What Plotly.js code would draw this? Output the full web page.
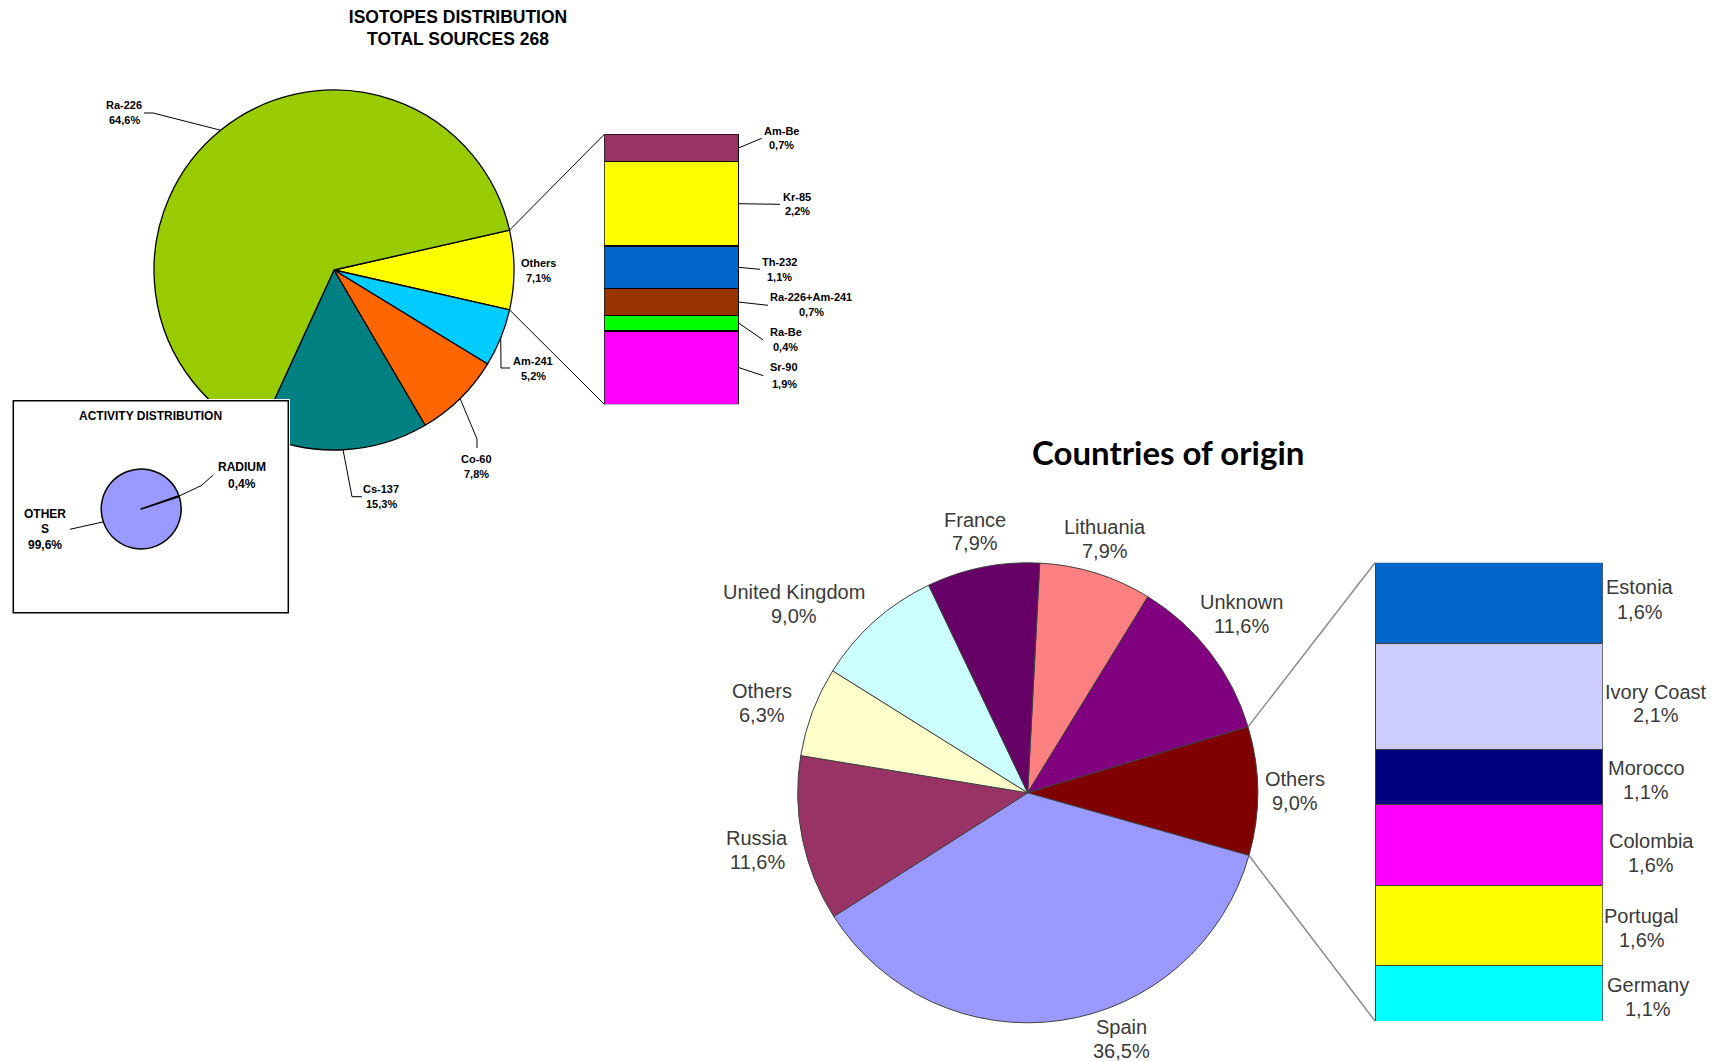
<!DOCTYPE html>
<html><head><meta charset="utf-8">
<script src="https://cdn.plot.ly/plotly-3.0.1.min.js"></script>
<style>
html,body{margin:0;padding:0;background:#fff;}
#wrap{position:relative;width:1717px;height:1061px;}
#main{position:absolute;left:0;top:0;width:1717px;height:1061px;}
#inset{position:absolute;left:12px;top:399px;width:278px;height:215px;}
</style></head><body>
<div id="wrap"><div id="main"></div><div id="inset"></div></div>
<script>
// ---------------- data ----------------
const isotopeLabels = ['Others', 'Am-241', 'Co-60', 'Cs-137', 'Ra-226'];
const isotopeValues = [7.1, 5.2, 7.8, 15.3, 64.6];
const isotopeColors = ['#FFFF00', '#00CCFF', '#FF6600', '#008080', '#99CC00'];

const otherIsotopeLabels = ['Am-Be', 'Kr-85', 'Th-232', 'Ra-226+Am-241', 'Ra-Be', 'Sr-90'];
const otherIsotopeValues = [0.7, 2.2, 1.1, 0.7, 0.4, 1.9];
const otherIsotopeColors = ['#993366', '#FFFF00', '#0066CC', '#993300', '#00FF00', '#FF00FF'];

const activityLabels = ['RADIUM', 'OTHERS'];
const activityValues = [0.4, 99.6];
const activityColors = ['#9999FF', '#9999FF'];

const countryLabels = ['Lithuania', 'Unknown', 'Others', 'Spain', 'Russia', 'Others', 'United Kingdom', 'France'];
const countryValues = [7.9, 11.6, 9.0, 36.5, 11.6, 6.3, 9.0, 7.9];
const countryColors = ['#FF8080', '#800080', '#800000', '#9999FF', '#993366', '#FFFFCC', '#CCFFFF', '#660066'];

const otherCountryLabels = ['Estonia', 'Ivory Coast', 'Morocco', 'Colombia', 'Portugal', 'Germany'];
const otherCountryValues = [1.6, 2.1, 1.1, 1.6, 1.6, 1.1];
const otherCountryColors = ['#0066CC', '#CCCCFF', '#000080', '#FF00FF', '#FFFF00', '#00FFFF'];

const titleTop = 'ISOTOPES DISTRIBUTION<br>TOTAL SOURCES 268';
const titleInset = 'ACTIVITY DISTRIBUTION';
const titleCountries = 'Countries of origin';

// ---------------- geometry / layout ----------------
const W = 1717, H = 1061;
const pie1 = {cx: 334, cy: 270, r: 180};
const box1 = {x0: 604.3, x1: 739, y0: 134.3, y1: 404.3};
const pie2 = {cx: 1027.7, cy: 792.8, r: 230};
const box2 = {x0: 1375, x1: 1602.7, y0: 562.7, y1: 1021};
const pie2Rotation = 3;

const isoLabelPos = [
  {x: 538, y: [263.3, 277.7], leader: null},
  {x: 533, y: [361, 375.7], leader: [[501, 368], [510, 368]]},
  {x: 476, y: [459.3, 474], leader: [[477, 439], [477, 448]]},
  {x: 381, y: [489.3, 504], leader: [[352, 496.7], [362, 496.7]]},
  {x: 124, y: [105, 119.5], leader: [[153, 113], [144, 113]]}
];
const otherIsoLabelPos = [
  {x: 781.7, y: [131, 145], end: [761.7, 138.3]},
  {x: 797, y: [197, 210.7], end: [780, 204.3]},
  {x: 779, y: [262.3, 277.3], end: [760, 269.3]},
  {x: 811, y: [297.3, 312.3], end: [768, 305.3]},
  {x: 785.7, y: [332.3, 347.3], end: [763.3, 340]},
  {x: 784, y: [367.3, 384.3], end: [763.3, 375.7]}
];
const countryLabelPos = [
  {x: 1105, y: [527, 550.6]},
  {x: 1241.5, y: [602.4, 626]},
  {x: 1295, y: [778.5, 802.6]},
  {x: 1121, y: [1027, 1050.6]},
  {x: 757.3, y: [838.4, 862]},
  {x: 762, y: [690.6, 714.7]},
  {x: 793.7, y: [592.2, 616.3]},
  {x: 974.7, y: [520, 543.3]}
];
const otherCountryLabelPos = [
  {x: 1640, y: [586.7, 611.7]},
  {x: 1656, y: [691.7, 715]},
  {x: 1646, y: [768.3, 791.7]},
  {x: 1651, y: [841, 865]},
  {x: 1641.7, y: [916, 940]},
  {x: 1648.3, y: [985, 1009.3]}
];

// ---------------- helpers ----------------
const sum = a => a.reduce((s, v) => s + v, 0);
const pct = v => v.toFixed(1).replace('.', ',') + '%';
const rad = d => d * Math.PI / 180;
function mk(w, h) {
  const X = px => px / w, Y = py => 1 - py / h;
  return {
    X, Y,
    dom: c => ({x: [X(c.cx - c.r), X(c.cx + c.r)], y: [Y(c.cy + c.r), Y(c.cy - c.r)]}),
    path: (pts, color, width) => ({
      type: 'path', xref: 'paper', yref: 'paper', layer: 'above',
      path: 'M ' + pts.map(p => X(p[0]).toFixed(5) + ',' + Y(p[1]).toFixed(5)).join(' L '),
      line: {color: color, width: width}
    }),
    ann: (x, y, text, font) => ({
      xref: 'paper', yref: 'paper', x: X(x), y: Y(y), text: text, showarrow: false,
      xanchor: 'center', yanchor: 'middle', font: font
    })
  };
}
function sliceAngles(values, rotation) {
  const tot = sum(values); let a = rotation;
  return values.map(v => { const s = a; a += v / tot * 360; return {start: s, end: a, mid: (s + a) / 2}; });
}
const onPie = (c, deg) => [c.cx + c.r * Math.sin(rad(deg)), c.cy - c.r * Math.cos(rad(deg))];
function segMids(values, box) {
  const tot = sum(values); let cum = 0;
  return values.map(v => { const m = box.y0 + (cum + v / 2) / tot * (box.y1 - box.y0); cum += v; return m; });
}

const M = mk(W, H);
const fontArialB = {family: 'Liberation Sans, Arial, sans-serif', size: 11, color: '#000', weight: 'bold'};
const fontCountry = {family: 'Liberation Sans, Arial, sans-serif', size: 20, color: '#3a3a3a'};

// ---------------- traces ----------------
const pie1Rotation = 90 - isotopeValues[0] / sum(isotopeValues) * 180;
const traces = [];
traces.push({
  type: 'pie', labels: isotopeLabels, values: isotopeValues, sort: false, direction: 'clockwise',
  rotation: pie1Rotation, marker: {colors: isotopeColors, line: {color: '#000', width: 1.3}},
  textinfo: 'none', hoverinfo: 'skip', domain: M.dom(pie1)
});
traces.push({
  type: 'pie', labels: countryLabels.map((c, i) => i + ' ' + c), values: countryValues, sort: false,
  direction: 'clockwise', rotation: pie2Rotation,
  marker: {colors: countryColors, line: {color: '#404040', width: 1}},
  textinfo: 'none', hoverinfo: 'skip', domain: M.dom(pie2)
});
otherIsotopeLabels.forEach((l, i) => traces.push({
  type: 'bar', name: l, x: [0], y: [otherIsotopeValues[i]], width: [1], xaxis: 'x', yaxis: 'y',
  marker: {color: otherIsotopeColors[i], line: {color: '#000', width: 1.5}}, hoverinfo: 'skip'
}));
otherCountryLabels.forEach((l, i) => traces.push({
  type: 'bar', name: l, x: [0], y: [otherCountryValues[i]], width: [1], xaxis: 'x2', yaxis: 'y2',
  marker: {color: otherCountryColors[i], line: {color: '#404040', width: 1}}, hoverinfo: 'skip'
}));

// ---------------- shapes & annotations ----------------
const shapes = [], annotations = [];
const a1 = sliceAngles(isotopeValues, pie1Rotation);
isotopeLabels.forEach((l, i) => {
  const p = isoLabelPos[i];
  annotations.push(M.ann(p.x, p.y[0], l, fontArialB));
  annotations.push(M.ann(p.x, p.y[1], pct(isotopeValues[i]), fontArialB));
  if (p.leader) shapes.push(M.path([onPie(pie1, a1[i].mid)].concat(p.leader), '#000', 1));
});
shapes.push(M.path([onPie(pie1, a1[0].start), [box1.x0, box1.y0]], '#000', 1));
shapes.push(M.path([onPie(pie1, a1[0].end), [box1.x0, box1.y1]], '#000', 1));
const m1 = segMids(otherIsotopeValues, box1);
otherIsotopeLabels.forEach((l, i) => {
  const p = otherIsoLabelPos[i];
  annotations.push(M.ann(p.x, p.y[0], l, fontArialB));
  annotations.push(M.ann(p.x, p.y[1], pct(otherIsotopeValues[i]), fontArialB));
  shapes.push(M.path([[box1.x1, m1[i]], p.end], '#000', 1));
});

const a2 = sliceAngles(countryValues, pie2Rotation);
countryLabels.forEach((l, i) => {
  const p = countryLabelPos[i];
  annotations.push(M.ann(p.x, p.y[0], l, fontCountry));
  annotations.push(M.ann(p.x, p.y[1], pct(countryValues[i]), fontCountry));
});
shapes.push(M.path([onPie(pie2, a2[2].start), [box2.x0, box2.y0]], '#8a8a8a', 1.5));
shapes.push(M.path([onPie(pie2, a2[2].end), [box2.x0, box2.y1]], '#8a8a8a', 1.5));
otherCountryLabels.forEach((l, i) => {
  const p = otherCountryLabelPos[i];
  annotations.push(M.ann(p.x, p.y[0], l, fontCountry));
  annotations.push(M.ann(p.x, p.y[1], pct(otherCountryValues[i]), fontCountry));
});
annotations.push(M.ann(1168, 452, titleCountries, {family: 'Lato, Open Sans, sans-serif', size: 33, color: '#000', weight: 'bold'}));

const layout = {
  width: W, height: H, margin: {l: 0, r: 0, t: 0, b: 0},
  paper_bgcolor: '#ffffff', plot_bgcolor: 'rgba(0,0,0,0)',
  showlegend: false, hovermode: false, barmode: 'stack', bargap: 0,
  title: {text: titleTop, x: M.X(458), xref: 'paper', xanchor: 'center', y: 1 - 22.5 / H, yref: 'container', yanchor: 'middle',
    font: {family: 'Liberation Sans, Arial, sans-serif', size: 17.5, color: '#000', weight: 'bold'}},
  xaxis: {domain: [M.X(box1.x0), M.X(box1.x1)], range: [-0.5, 0.5], visible: false, fixedrange: true, anchor: 'y'},
  yaxis: {domain: [M.Y(box1.y1), M.Y(box1.y0)], range: [sum(otherIsotopeValues), 0], visible: false, fixedrange: true, anchor: 'x'},
  xaxis2: {domain: [M.X(box2.x0), M.X(box2.x1)], range: [-0.5, 0.5], visible: false, fixedrange: true, anchor: 'y2'},
  yaxis2: {domain: [M.Y(box2.y1), M.Y(box2.y0)], range: [sum(otherCountryValues), 0], visible: false, fixedrange: true, anchor: 'x2'},
  shapes: shapes, annotations: annotations
};
Plotly.newPlot('main', traces, layout, {staticPlot: true, displayModeBar: false});

// ---------------- inset: activity distribution ----------------
const IW = 278, IH = 215;
const N = mk(IW, IH);
const pie3 = {cx: 129.2, cy: 110, r: 40};
const pie3Rotation = 70.5;
const a3 = sliceAngles(activityValues, pie3Rotation);
const fontInset = {family: 'Liberation Sans, Arial, sans-serif', size: 12, color: '#000', weight: 'bold'};
const insetShapes = [
  {type: 'rect', xref: 'paper', yref: 'paper', x0: N.X(1.3), x1: N.X(276.3), y0: N.Y(213.7), y1: N.Y(1.7),
   line: {color: '#000', width: 1.5}, fillcolor: 'rgba(0,0,0,0)', layer: 'above'},
  N.path([onPie(pie3, a3[0].mid), [189, 86.7], [201.3, 76]], '#000', 1),
  N.path([onPie(pie3, a3[1].mid), [58, 130.3]], '#000', 1)
];
const insetAnn = [
  N.ann(138, 16.7, titleInset, fontInset),
  N.ann(229.7, 67.7, activityLabels[0], fontInset),
  N.ann(229.7, 85.3, pct(activityValues[0]), fontInset),
  N.ann(33, 115, activityLabels[1].slice(0, 5), fontInset),
  N.ann(33, 130.3, activityLabels[1].slice(5), fontInset),
  N.ann(33, 146, pct(activityValues[1]), fontInset)
];
Plotly.newPlot('inset', [{
  type: 'pie', labels: activityLabels, values: activityValues, sort: false, direction: 'clockwise',
  rotation: pie3Rotation, marker: {colors: activityColors, line: {color: '#000', width: 1.5}},
  textinfo: 'none', hoverinfo: 'skip', domain: N.dom(pie3)
}], {
  width: IW, height: IH, margin: {l: 0, r: 0, t: 0, b: 0}, paper_bgcolor: '#ffffff',
  showlegend: false, hovermode: false, shapes: insetShapes, annotations: insetAnn
}, {staticPlot: true, displayModeBar: false});
</script>
</body></html>
